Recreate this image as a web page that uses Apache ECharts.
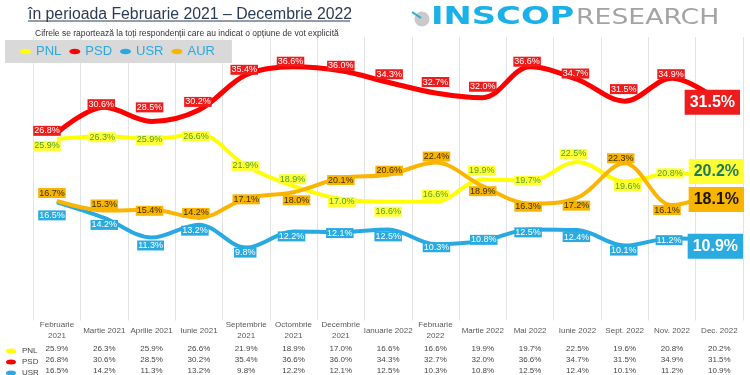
<!DOCTYPE html>
<html><head><meta charset="utf-8">
<script src="https://cdn.jsdelivr.net/npm/echarts@6/dist/echarts.min.js"></script>
<style>html,body{margin:0;padding:0;background:#fff}#c{width:750px;height:375px}</style>
</head><body><div id="c"></div>
<script>
const categories = ['Februarie\n2021','Martie 2021','Aprilie 2021','Iunie 2021','Septembrie\n2021','Octombrie\n2021','Decembrie\n2021','Ianuarie 2022','Februarie\n2022','Martie 2022','Mai 2022','Iunie 2022','Sept. 2022','Nov. 2022','Dec. 2022'];
const seriesNames = ['PNL','PSD','USR','AUR'];
const pnl = [25.9,26.3,25.9,26.6,21.9,18.9,17.0,16.6,16.6,19.9,19.7,22.5,19.6,20.8,20.2];
const psd = [26.8,30.6,28.5,30.2,35.4,36.6,36.0,34.3,32.7,32.0,36.6,34.7,31.5,34.9,31.5];
const usr = [16.5,14.2,11.3,13.2,9.8,12.2,12.1,12.5,10.3,10.8,12.5,12.4,10.1,11.2,10.9];
const aur = [16.7,15.3,15.4,14.2,17.1,18.0,20.1,20.6,22.4,18.9,16.3,17.2,22.3,16.1,18.1];

// label placement nudges (pixels), kept apart from the values
const pnlShift = [[-10,7],[-2,1],[-2,1],[-3,2],[-1,0],[-1,-7],[1,3],[0,10],[0,-7],[-1,-9],[-2,0],[-4,-8],[3,5],[-2,0],[-3,-6]];
const psdShift = [[-10,-2],[-3,-3],[-2,-14],[-1,-8],[-2,-5],[-3,-5],[0,-5],[1,-8],[0,-11],[0,-11],[-3,-5],[-2,-6],[-1,-12],[-1,-4],[-7,1]];
const usrShift = [[-5,13],[0,7],[-1,8],[-4,6],[-1,5],[-2,5],[-1,1],[0,7],[1,3],[1,-1],[-2,3],[-1,7],[-1,5],[-3,2],[-4,6]];
const aurShift = [[-5,-8],[0,-6],[-2,1],[-3,-5],[0,1],[3,8],[0,2],[1,-4],[1,-6],[0,5],[-2,3],[-1,8],[-4,-5],[-5,5],[-3,8]];

const FONT = '"Liberation Sans", Arial, sans-serif';
const ell = 'path://M0,5a10,5 0 1,0 20,0a10,5 0 1,0 -20,0z';
const fmt = v => v.toFixed(1) + '%';

function mk(name, vals, shift, color, lw, bg, txt, bigTxt) {
  const last = vals.length - 1;
  return {
    name, type: 'line', smooth: 0.35, symbol: 'circle', symbolSize: 1, showSymbol: true,
    lineStyle: { width: lw, color }, itemStyle: { color },
    emphasis: { disabled: true },
    data: vals.map((v, i) => ({
      value: v,
      label: i === last
        ? { offset: shift[i], fontSize: 16, fontWeight: 'bold', padding: [3, 5, 3, 5], lineHeight: 19, color: bigTxt }
        : { offset: shift[i] }
    })),
    label: {
      show: true, position: 'inside', formatter: p => fmt(p.value),
      fontFamily: FONT, fontSize: 9, lineHeight: 10, padding: [0, 1, 0, 1],
      backgroundColor: bg, color: txt
    },
    z: 2
  };
}

function rowAxis(vals, margin) {
  return {
    type: 'category', data: categories, gridIndex: 0, position: 'bottom', offset: 0,
    axisLine: { show: false }, axisTick: { show: false }, splitLine: { show: false },
    axisLabel: { interval: 0, margin, verticalAlign: 'middle', hideOverlap: false,
      formatter: (v, i) => fmt(vals[i]), fontFamily: FONT, fontSize: 8, color: '#444' }
  };
}

function rowLegend(name, top) {
  return { data: [name], orient: 'vertical', left: 6, top, padding: 0,
    itemWidth: 12, itemHeight: 5, icon: ell, selectedMode: false,
    textStyle: { fontFamily: FONT, fontSize: 8, lineHeight: 10, color: '#444' } };
}

const chart = echarts.init(document.getElementById('c'), null, { renderer: 'canvas' });
chart.setOption({
  animation: false,
  backgroundColor: '#fff',
  title: [
    { text: '\u00een perioada Februarie 2021 \u2013 Decembrie 2022', left: 23, top: 2,
      textStyle: { fontFamily: FONT, fontSize: 15.8, fontWeight: 'normal', color: '#2b3a55' } },
    { text: 'Cifrele se raportează la toți respondenții care au indicat o opțiune de vot explicită', left: 30, top: 24,
      textStyle: { fontFamily: FONT, fontSize: 8.5, fontWeight: 'normal', color: '#333' } }
  ],
  legend: [
    { data: seriesNames, left: 5, top: 40, padding: [5, 17, 5, 15], backgroundColor: '#d9d9d9',
      itemWidth: 11, itemHeight: 7, itemGap: 8, icon: ell, selectedMode: false,
      textStyle: { fontFamily: FONT, fontSize: 13, color: '#2aa9e0' } },
    rowLegend('PNL', 346), rowLegend('PSD', 357), rowLegend('USR', 368)
  ],
  grid: { left: 33.3, right: 7, top: 37, bottom: 52, containLabel: false },
  xAxis: [
    { type: 'category', data: categories, boundaryGap: true,
      axisLine: { show: false }, axisTick: { show: false },
      splitLine: { show: true, interval: 0, lineStyle: { color: '#e3e3e3', width: 1 } },
      axisLabel: { interval: 0, margin: 10, verticalAlign: 'middle', hideOverlap: false,
        fontFamily: FONT, fontSize: 8, lineHeight: 11, color: '#595959' } },
    rowAxis(pnl, 28.5), rowAxis(psd, 39.5), rowAxis(usr, 50.5)
  ],
  yAxis: { type: 'value', min: -1, max: 41, show: false, splitLine: { show: false } },
  series: [
    mk('PNL', pnl, pnlShift, '#ffff00', 4, '#ffff33', '#4f9e2a', '#1d7a5c'),
    mk('PSD', psd, psdShift, '#ff0000', 5, '#ee1c1c', '#ffffff', '#ffffff'),
    mk('USR', usr, usrShift, '#29a9e1', 4, '#29abe2', '#ffffff', '#ffffff'),
    mk('AUR', aur, aurShift, '#fbb400', 4, '#f7b500', '#3d2b00', '#1a1200')
  ],
  graphic: [
    { type: 'line', shape: { x1: 28, y1: 21, x2: 350, y2: 21 }, style: { stroke: '#2b3a55', lineWidth: 1 } },
    { type: 'circle', shape: { cx: 422, cy: 19, r: 7.5 }, style: { fill: '#c9c9c9' } },
    { type: 'line', shape: { x1: 412, y1: 12, x2: 421, y2: 18 }, style: { stroke: '#2aa9e0', lineWidth: 2 } },
    { type: 'text', x: 431, y: 17, scaleX: 1.35,
      style: { text: 'INSCOP', fontFamily: '"DejaVu Sans"', fontWeight: 'bold', fontSize: 25, fill: '#1ab0e8', verticalAlign: 'middle' } },
    { type: 'text', x: 576, y: 19, scaleX: 1.27,
      style: { text: 'RESEARCH', fontFamily: '"DejaVu Sans"', fontSize: 21, fill: '#a3a3a3', verticalAlign: 'middle' } }
  ]
});
</script></body></html>
